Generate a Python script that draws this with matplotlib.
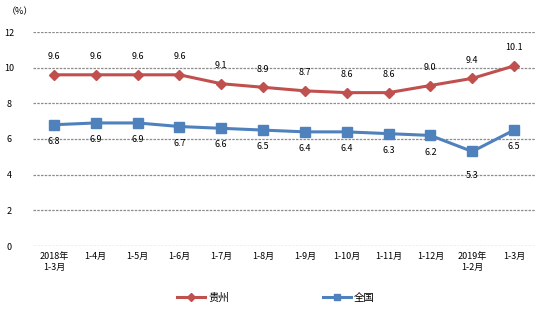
import matplotlib
matplotlib.use("Agg")
import matplotlib.pyplot as plt
from matplotlib.lines import Line2D

plt.rcParams['font.family'] = ['Noto Sans CJK SC', 'DejaVu Sans']

categories = ["2018年\n1-3月", "1-4月", "1-5月", "1-6月", "1-7月", "1-8月",
              "1-9月", "1-10月", "1-11月", "1-12月", "2019年\n1-2月", "1-3月"]
guizhou = [9.6, 9.6, 9.6, 9.6, 9.1, 8.9, 8.7, 8.6, 8.6, 9.0, 9.4, 10.1]
quanguo = [6.8, 6.9, 6.9, 6.7, 6.6, 6.5, 6.4, 6.4, 6.3, 6.2, 5.3, 6.5]
yticks = [0, 2, 4, 6, 8, 10, 12]

red = "#C0504D"
blue = "#4F81BD"

fig = plt.figure(figsize=(5.52, 3.15), dpi=100)
ax = fig.add_axes([33 / 552, 1 - 246 / 315, (535 - 33) / 552, (246 - 32) / 315])

x = list(range(len(categories)))
ax.plot(x, guizhou, color=red, lw=2.2, marker="D", ms=5, mec=red, mfc=red, zorder=3)
ax.plot(x, quanguo, color=blue, lw=2.2, marker="s", ms=7, mec=blue, mfc=blue, zorder=3)

for i, v in enumerate(guizhou):
    ax.annotate(f"{v:.1f}", (i, v), xytext=(0, 13), textcoords="offset points",
                ha="center", va="center", fontsize=6.5, color="black")
for i, v in enumerate(quanguo):
    off = -17 if i == 10 else -12
    ax.annotate(f"{v:.1f}", (i, v), xytext=(0, off), textcoords="offset points",
                ha="center", va="center", fontsize=6.5, color="black")

ax.set_xlim(-0.5, len(categories) - 0.5)
ax.set_ylim(0, 12)
ax.set_yticks(yticks)
ax.set_yticklabels([str(t) for t in yticks], fontsize=6.5)
ax.set_xticks(x)
ax.set_xticklabels(categories, fontsize=6.5, linespacing=1.4)
ax.tick_params(axis="both", length=0)
ax.tick_params(axis="y", pad=17)
ax.tick_params(axis="x", pad=4)
for lab in ax.get_yticklabels():
    lab.set_horizontalalignment("center")

ax.yaxis.grid(True, linestyle=(0, (2, 1)), color="#8c8c8c", lw=0.9)
ax.set_axisbelow(True)
for s in ax.spines.values():
    s.set_visible(False)

fig.text(20 / 552, 1 - 12 / 315, "（%）", fontsize=6.5, ha="center", va="center")

handles = [Line2D([0], [0], color=red, lw=2.2, marker="D", ms=4),
           Line2D([0], [0], color=blue, lw=2.2, marker="s", ms=5)]
fig.legend(handles, ["贵州", "全国"], loc="center", bbox_to_anchor=(0.5, 1 - 298 / 315),
           ncol=2, frameon=False, fontsize=7.5, columnspacing=9, handlelength=2.7,
           handletextpad=0.3)

fig.savefig("out.png", dpi=100)
